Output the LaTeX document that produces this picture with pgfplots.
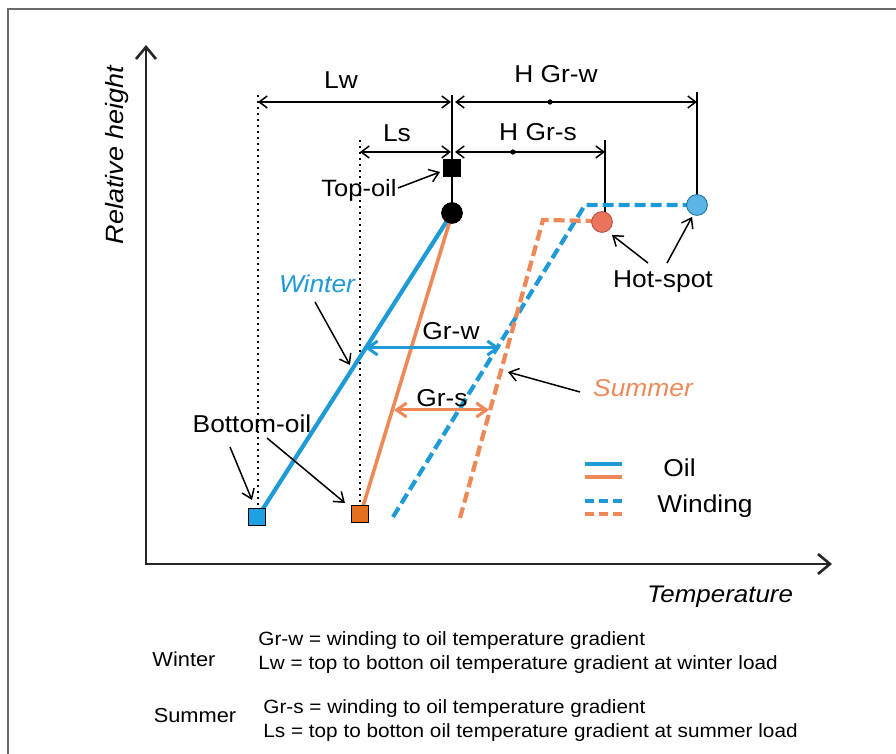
\documentclass[border=0pt]{standalone}
\usepackage{pgfplots}
\pgfplotsset{compat=1.18}
\usetikzlibrary{arrows.meta}
\usepackage{fontspec}
\setmainfont{Liberation Sans}[FakeStretch=1.08]
\definecolor{wblue}{HTML}{1E9AD6}
\definecolor{sorange}{HTML}{EE8957}
\definecolor{sqblue}{HTML}{1DA1E2}
\definecolor{sqorange}{HTML}{E2701F}
\definecolor{cblue}{HTML}{5CB3E6}
\definecolor{corange}{HTML}{EC735B}
\definecolor{framegray}{HTML}{6A6A6A}
\tikzset{
  thinarr/.style={black, line width=0.75pt, -{Straight Barb[length=4.5pt,width=6.5pt]}},
  dthinarr/.style={black, line width=0.75pt, {Straight Barb[length=4pt,width=6pt]}-{Straight Barb[length=4pt,width=6pt]}},
  lbl/.style={font=\fontsize{12.2}{14}\selectfont, inner sep=0pt},
}
\begin{document}
\begin{tikzpicture}
\begin{axis}[name=ax, hide axis, scale only axis, width=448pt, height=377pt,
  xmin=0, xmax=896, ymin=0, ymax=754, y dir=reverse, clip=false]
% frame
\addplot[framegray, line width=1pt] coordinates {(8,754) (8,9) (896,9)};
% axes
\addplot[black!85, line width=1.3pt, -{Straight Barb[length=6pt,width=10pt]}] coordinates {(146,565) (146,45)};
\addplot[black!85, line width=1.3pt, -{Straight Barb[length=6pt,width=10pt]}] coordinates {(145,564) (832,564)};
% dotted guides
\addplot[black, line width=1pt, dash pattern=on 1pt off 2pt] coordinates {(258,95) (258,510)};
\addplot[black, line width=1pt, dash pattern=on 1pt off 2pt] coordinates {(360,140) (360,505)};
% vertical solid guides
\addplot[black, line width=0.75pt] coordinates {(452,95) (452,213)};
\addplot[black, line width=0.75pt] coordinates {(697,92) (697,204)};
\addplot[black, line width=0.75pt] coordinates {(605,140) (605,221)};
% dimension arrows
\addplot[dthinarr] coordinates {(258,102) (451,102)};
\addplot[dthinarr] coordinates {(455,102) (697,102)};
\addplot[dthinarr] coordinates {(360,152) (451,152)};
\addplot[dthinarr] coordinates {(455,152) (605,152)};
\addplot[only marks, mark=*, mark size=1.1pt, black] coordinates {(550,102) (513,152)};
% winding (dashed)
\addplot[wblue, line width=2.1pt, dash pattern=on 5.5pt off 2.5pt] coordinates {(393,517) (585,205) (690,205)};
\addplot[sorange, line width=2.1pt, dash pattern=on 5.5pt off 2.5pt] coordinates {(460,518) (543,220) (595,221)};
% oil (solid)
\addplot[wblue, line width=2.1pt] coordinates {(259,515) (452,213)};
\addplot[sorange, line width=1.8pt] coordinates {(361,513) (452,214)};
% gradient arrows
\addplot[wblue, line width=1.5pt, {Straight Barb[length=5pt,width=7pt]}-{Straight Barb[length=5pt,width=7pt]}] coordinates {(365,348) (500,348)};
\addplot[sorange, line width=1.5pt, {Straight Barb[length=5pt,width=7pt]}-{Straight Barb[length=5pt,width=7pt]}] coordinates {(394,410) (489,410)};
% marks
\addplot[only marks, mark=square*, mark size=4.2pt, mark options={fill=black, draw=black}] coordinates {(452,168)};
\addplot[only marks, mark=*, mark size=5.2pt, mark options={fill=black, draw=black}] coordinates {(452,213)};
\addplot[only marks, mark=*, mark size=5.2pt, mark options={fill=cblue, draw=wblue!70!black, line width=0.4pt}] coordinates {(697,205)};
\addplot[only marks, mark=*, mark size=5.2pt, mark options={fill=corange, draw=corange!70!black, line width=0.4pt}] coordinates {(602,222)};
\addplot[only marks, mark=square*, mark size=4.1pt, mark options={fill=sqblue, draw=black, line width=0.6pt}] coordinates {(257,517)};
\addplot[only marks, mark=square*, mark size=4.1pt, mark options={fill=sqorange, draw=black, line width=0.6pt}] coordinates {(360,514)};
% pointer arrows
\addplot[thinarr] coordinates {(398,188) (440,172)};
\addplot[thinarr] coordinates {(315,302) (350,365)};
\addplot[thinarr] coordinates {(580,392) (508,372)};
\addplot[thinarr] coordinates {(230,447) (252,500)};
\addplot[thinarr] coordinates {(267,438) (345,503)};
\addplot[thinarr] coordinates {(648,263) (612,235)};
\addplot[thinarr] coordinates {(667,263) (692,217)};
% legend
\addplot[wblue, line width=2.1pt] coordinates {(585,464) (622,464)};
\addplot[sorange, line width=2.1pt] coordinates {(585,477) (622,477)};
\addplot[wblue, line width=2.1pt, dash pattern=on 4.5pt off 2.5pt] coordinates {(585,501) (622,501)};
\addplot[sorange, line width=2.1pt, dash pattern=on 4.5pt off 2.5pt] coordinates {(585,514) (622,514)};
% labels
\node[lbl, anchor=base] at (axis cs:341,89) {Lw};
\node[lbl, anchor=base] at (axis cs:556,83) {H Gr-w};
\node[lbl, anchor=base] at (axis cs:397,142) {Ls};
\node[lbl, anchor=base] at (axis cs:538,141) {H Gr-s};
\node[lbl, anchor=base, font=\fontsize{11.8}{13}\selectfont] at (axis cs:359,197) {Top-oil};
\node[lbl, anchor=base, text=wblue, font=\fontsize{12.2}{14}\selectfont\itshape] at (axis cs:317,293) {Winter};
\node[lbl, anchor=base] at (axis cs:451,340) {Gr-w};
\node[lbl, anchor=base] at (axis cs:442,407) {Gr-s};
\node[lbl, anchor=base] at (axis cs:252,433) {Bottom-oil};
\node[lbl, anchor=base] at (axis cs:663,288) {Hot-spot};
\node[lbl, anchor=base, text=sorange, font=\fontsize{12.2}{14}\selectfont\itshape] at (axis cs:643,397) {Summer};
\node[lbl, anchor=base west] at (axis cs:663,477) {Oil};
\node[lbl, anchor=base west] at (axis cs:657,513) {Winding};
\node[lbl, anchor=base, font=\fontsize{12}{14}\selectfont\itshape] at (axis cs:720,603) {Temperature};
\node[lbl, anchor=base, rotate=90, font=\fontsize{12.5}{14}\selectfont\itshape] at (axis cs:123,155) {Relative height};
% explanation text
\node[anchor=base, inner sep=0pt, font=\fontsize{10.1}{12}\selectfont] at (axis cs:184,667) {Winter};
\node[anchor=base, inner sep=0pt, font=\fontsize{10.1}{12}\selectfont] at (axis cs:195,723) {Summer};
\node[anchor=base west, inner sep=0pt, font=\fontsize{9.6}{12}\selectfont] at (axis cs:258,646) {Gr-w = winding to oil temperature gradient};
\node[anchor=base west, inner sep=0pt, font=\fontsize{9.6}{12}\selectfont] at (axis cs:258,670) {Lw = top to botton oil temperature gradient at winter load};
\node[anchor=base west, inner sep=0pt, font=\fontsize{9.6}{12}\selectfont] at (axis cs:263,714) {Gr-s = winding to oil temperature gradient};
\node[anchor=base west, inner sep=0pt, font=\fontsize{9.6}{12}\selectfont] at (axis cs:263,738) {Ls = top to botton oil temperature gradient at summer load};
\end{axis}
\pgfresetboundingbox
\path[use as bounding box] (ax.south west) rectangle (ax.north east);
\end{tikzpicture}
\end{document}
